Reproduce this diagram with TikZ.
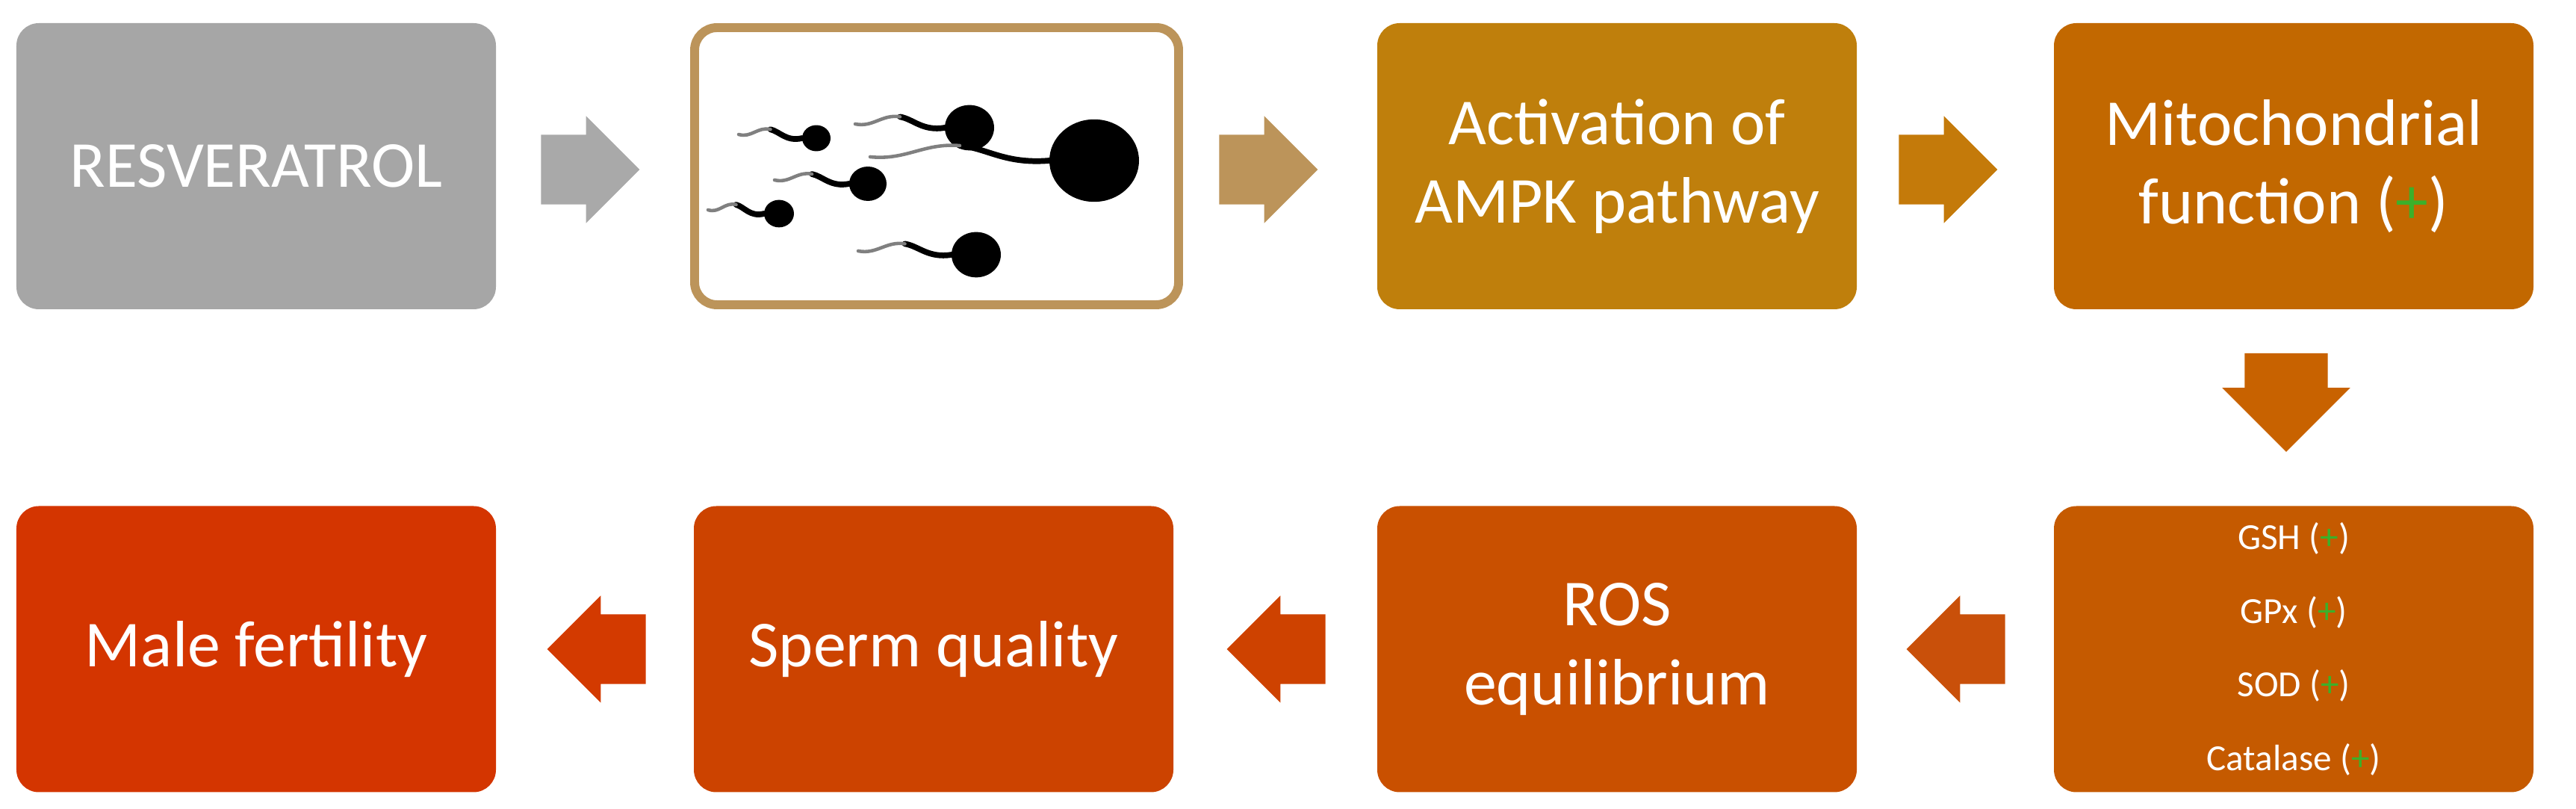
\documentclass[tikz,border=0pt]{standalone}
\usepackage{fontspec}
\setmainfont{Carlito}
\usetikzlibrary{shapes.arrows,calc}
\definecolor{c1}{HTML}{A6A6A6}
\definecolor{a1}{HTML}{A9A9A9}
\definecolor{c2}{HTML}{BC945A}
\definecolor{c3}{HTML}{BF7F0C}
\definecolor{a3}{HTML}{C47A0A}
\definecolor{c4}{HTML}{C26800}
\definecolor{a4}{HTML}{C86200}
\definecolor{c8}{HTML}{C55A00}
\definecolor{a8}{HTML}{C9500A}
\definecolor{c7}{HTML}{C95000}
\definecolor{a7}{HTML}{CE4200}
\definecolor{c6}{HTML}{CC4300}
\definecolor{a6}{HTML}{D33A00}
\definecolor{c5}{HTML}{D43500}
\definecolor{plus}{HTML}{3CB02A}
\tikzset{
 box/.style={rounded corners=0.3cm,minimum width=6.42cm,minimum height=3.83cm,inner sep=0,align=center,text=white,font=\fontsize{25}{30}\selectfont},
 barrow/.style={single arrow,draw=none,minimum height=1.32cm,inner xsep=0,inner ysep=0.46cm,single arrow head extend=0.25cm},
 head/.style={fill=black},
 tail/.style={line width=2.2pt,line cap=round},
}
\newcommand{\pl}{\textcolor{plus}{+}}
\begin{document}
\begin{tikzpicture}
\useasboundingbox (0,0) rectangle (34.49,10.83);
% row 1
\node[box,fill=c1] (b1) at (3.43,8.605) {RESVERATROL};
\node[box,draw=c2,line width=3.4pt,fill=white,minimum width=6.48cm,minimum height=3.71cm] (b2) at (12.54,8.605) {};
\node[box,fill=c3] (b3) at (21.65,8.605) {Activation of\\AMPK pathway};
\node[box,fill=c4] (b4) at (30.71,8.605) {Mitochondrial\\function (\pl)};
% row 2
\node[box,fill=c5] (b5) at (3.43,2.14) {Male fertility};
\node[box,fill=c6] (b6) at (12.5,2.14) {Sperm quality};
\node[box,fill=c7] (b7) at (21.65,2.14) {ROS\\equilibrium};
\node[box,fill=c8,font=\fontsize{14}{28}\selectfont] (b8) at (30.71,2.14) {GSH (\pl)\\GPx (\pl)\\SOD (\pl)\\Catalase (\pl)};
% arrows
\node[barrow,fill=a1] (r1) at (7.67,8.56) {};
\node[barrow,fill=c2] (r2) at (16.75,8.56) {};
\node[barrow,fill=a3] (r3) at (25.85,8.56) {};
\node[barrow,fill=a4,shape border rotate=270,inner ysep=0,inner xsep=0.55cm,single arrow head extend=0.3cm] (r4) at (30.61,5.72) {};
\node[barrow,fill=a8,shape border rotate=180] (r5) at (26.42,2.14) {};
\node[barrow,fill=a7,shape border rotate=180] (r6) at (17.32,2.14) {};
\node[barrow,fill=a6,shape border rotate=180] (r7) at (8.22,2.14) {};
% sperm
\foreach \x/\y/\r/\L in {12.98/9.12/0.33/1.2, 10.93/8.98/0.19/0.85, 14.65/8.68/0.6/2.4, 11.62/8.37/0.25/1.0, 10.43/7.97/0.2/0.75, 13.07/7.42/0.33/1.25}{
  \fill[head] (\x,\y) ellipse[x radius=\r,y radius=0.92*\r];
  \draw[tail,black] (\x-\r,\y) .. controls (\x-\r-0.25*\L,\y-0.05) and (\x-\r-0.35*\L,\y+0.2*\r+0.05) .. (\x-\r-0.5*\L,\y+0.2*\r+0.08);
  \draw[tail,gray,line width=1.3pt] (\x-\r-0.5*\L,\y+0.2*\r+0.08) .. controls (\x-\r-0.7*\L,\y+0.2*\r+0.12) and (\x-\r-0.8*\L,\y) .. (\x-\r-\L,\y+0.05);
}
\end{tikzpicture}
\end{document}
